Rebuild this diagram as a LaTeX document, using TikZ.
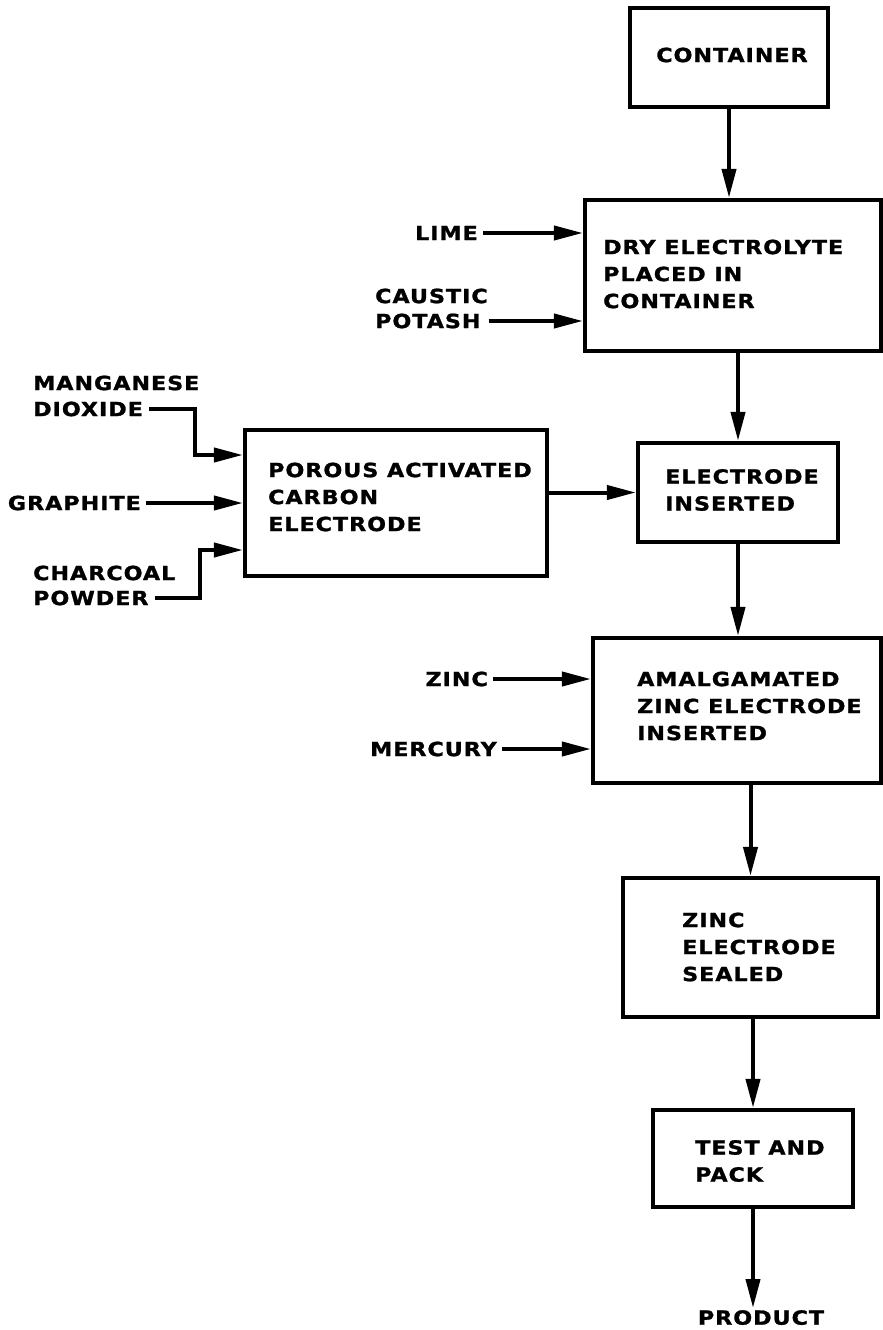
\documentclass[tikz,border=0pt]{standalone}
\usepackage{fontspec}
\newfontfamily\lblfont{DejaVu Sans}[FakeStretch=1.14,LetterSpace=5,FakeBold=1.3]
\usetikzlibrary{arrows.meta}
\begin{document}
\begin{tikzpicture}[x=1pt,y=-1pt,
  box/.style={draw, line width=4.2pt, inner sep=0pt},
  txt/.style={font=\lblfont\bfseries\fontsize{19.5}{27}\selectfont, align=left, inner sep=0pt},
  inlbl/.style={txt, inner xsep=5pt},
  flow/.style={line width=4pt, -{Triangle[length=29pt,width=14pt]}},
  wire/.style={line width=4pt}]
\useasboundingbox[fill=white] (0,0) rectangle (883,1330);

% process boxes
\node[box, minimum width=198pt, minimum height=99pt] (container) at (729,57.5) {};
\node[box, minimum width=296pt, minimum height=151pt] (dry) at (733,275.5) {};
\node[box, minimum width=200pt, minimum height=99pt] (elins) at (738,492.5) {};
\node[box, minimum width=302pt, minimum height=146pt] (porous) at (396,503) {};
\node[box, minimum width=288pt, minimum height=145pt] (amal) at (737,710.5) {};
\node[box, minimum width=255pt, minimum height=139pt] (sealed) at (750.5,947.5) {};
\node[box, minimum width=200pt, minimum height=97pt] (test) at (753,1158.5) {};

% box texts
\node[txt] (tcontainer) at (732,55) {CONTAINER};
\node[txt, anchor=west] (tdry) at (603,274) {DRY ELECTROLYTE\\PLACED IN\\CONTAINER};
\node[txt, anchor=west] (telins) at (665,490) {ELECTRODE\\INSERTED};
\node[txt, anchor=west] (tporous) at (268,497) {POROUS ACTIVATED\\CARBON\\ELECTRODE};
\node[txt, anchor=west] (tamal) at (637,706) {AMALGAMATED\\ZINC ELECTRODE\\INSERTED};
\node[txt, anchor=west] (tsealed) at (682,947) {ZINC\\ELECTRODE\\SEALED};
\node[txt, anchor=west] (ttest) at (695,1161) {TEST AND\\PACK};
\node[txt, inner sep=2pt, anchor=north] (product) at (761,1308) {PRODUCT};

% input labels
\node[inlbl, anchor=east] (lime) at (483,233) {LIME};
\node[txt, anchor=west] (caustic) at (375,296) {CAUSTIC};
\node[inlbl, anchor=west, inner xsep=0pt] (potash) at (375,321) {POTASH};
\node[txt, anchor=west] (mang) at (33,383) {MANGANESE};
\node[txt, anchor=west] (dioxide) at (33,409) {DIOXIDE};
\node[inlbl, anchor=east] (graphite) at (146,503) {GRAPHITE};
\node[txt, anchor=west] (charcoal) at (33,573) {CHARCOAL};
\node[txt, anchor=west] (powder) at (33,598) {POWDER};
\node[inlbl, anchor=east] (zinc) at (493,679) {ZINC};
\node[inlbl, anchor=east] (mercury) at (502,749) {MERCURY};

% main flow
\draw[flow] (container.south) -- (container.south |- dry.north);
\draw[flow] (dry.south -| elins.north) -- (elins.north);
\draw[flow] (elins.south) -- (elins.south |- amal.north);
\draw[flow] (amal.south -| sealed.north) -- (sealed.north);
\draw[flow] (sealed.south -| test.north) -- (test.north);
\draw[flow] (test.south) -- (test.south |- product.north);
\draw[flow] (porous.east |- elins) -- (elins.west);

% inputs
\draw[flow] (lime.east) -- (lime.east -| dry.west);
\draw[flow] ([xshift=8pt]potash.east) -- (potash.east -| dry.west);
\draw[wire] ([xshift=6pt]dioxide.east) -- (195,409) -- (195,455);
\draw[flow] (193,455) -- (porous.west |- 0,455);
\draw[flow] (graphite.east) -- (graphite.east -| porous.west);
\draw[wire] ([xshift=6pt]powder.east) -- (200,598) -- (200,550);
\draw[flow] (198,550) -- (porous.west |- 0,550);
\draw[flow] (zinc.east) -- (zinc.east -| amal.west);
\draw[flow] (mercury.east) -- (mercury.east -| amal.west);
\end{tikzpicture}
\end{document}
